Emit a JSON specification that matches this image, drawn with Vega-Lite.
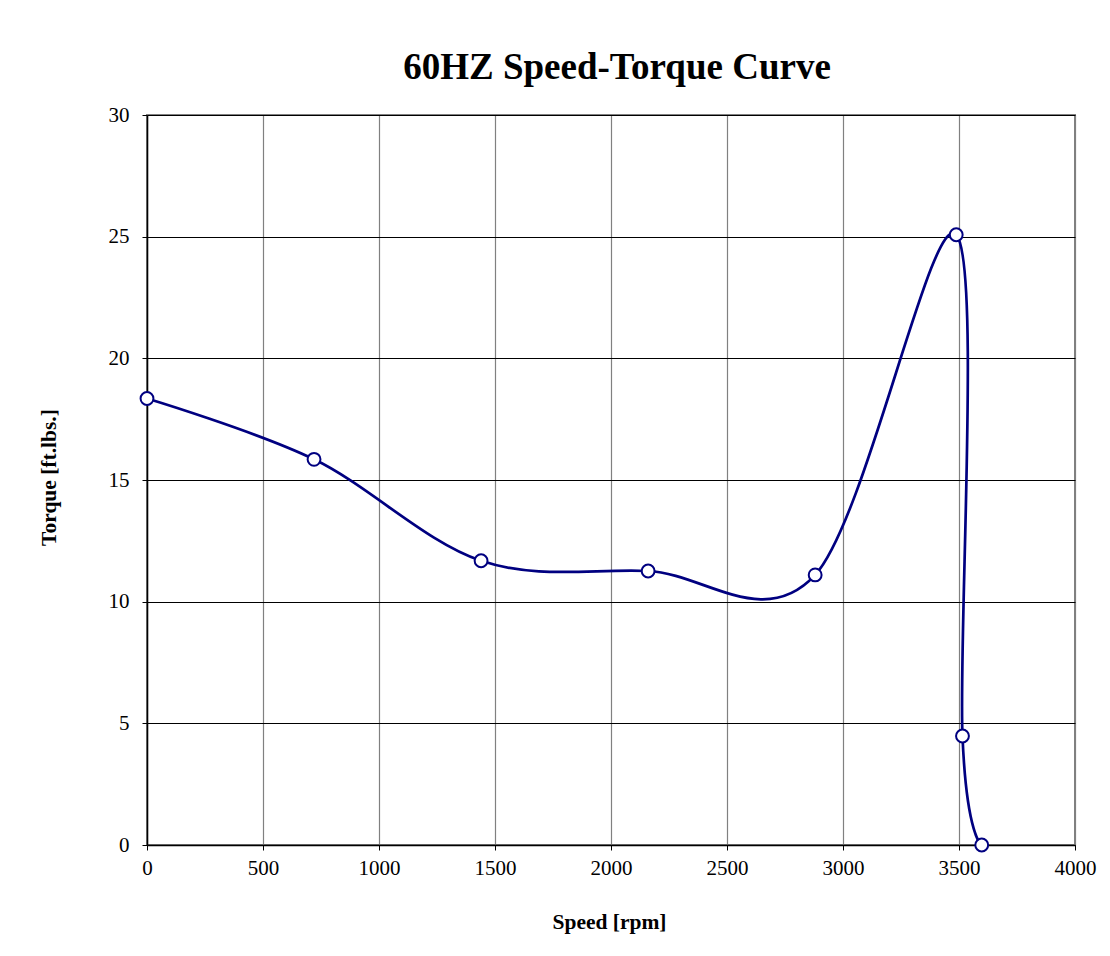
{
  "$schema": "https://vega.github.io/schema/vega-lite/v6.json",
  "width": 928,
  "height": 730,
  "autosize": {"type": "none"},
  "padding": {"left": 147, "top": 115, "right": 35, "bottom": 111},
  "background": "white",
  "title": {
    "text": "60HZ Speed-Torque Curve",
    "font": "Liberation Serif",
    "fontSize": 37,
    "fontWeight": "bold",
    "color": "black",
    "anchor": "middle",
    "baseline": "alphabetic",
    "offset": 35,
    "dy": 47,
    "dx": 6
  },
  "config": {
    "font": "Liberation Serif",
    "view": {"stroke": "#808080", "strokeWidth": 2},
    "axis": {
      "labelFont": "Liberation Serif",
      "labelFontSize": 21,
      "labelColor": "black",
      "labelFlush": false,
      "titleFont": "Liberation Serif",
      "titleFontSize": 21.5,
      "titleFontWeight": "bold",
      "titleColor": "black",
      "tickSize": 5,
      "tickColor": "black",
      "domainColor": "black",
      "domainWidth": 1.5
    }
  },
  "data": {
    "values": [
      {"i": 0, "speed": 0, "torque": 18.35},
      {"i": 1, "speed": 720, "torque": 15.85},
      {"i": 2, "speed": 1440, "torque": 11.68},
      {"i": 3, "speed": 2160, "torque": 11.26},
      {"i": 4, "speed": 2880, "torque": 11.1},
      {"i": 5, "speed": 3488, "torque": 25.08},
      {"i": 6, "speed": 3515, "torque": 4.48},
      {"i": 7, "speed": 3598, "torque": 0}
    ]
  },
  "encoding": {
    "x": {
      "field": "speed",
      "type": "quantitative",
      "scale": {"domain": [0, 4000], "nice": false, "zero": false},
      "axis": {
        "title": "Speed [rpm]",
        "format": "d",
        "values": [0, 500, 1000, 1500, 2000, 2500, 3000, 3500, 4000],
        "grid": true,
        "gridColor": "#808080",
        "gridWidth": 1.2,
        "gridOpacity": 1,
        "labelPadding": 7,
        "titleX": 462,
        "titleY": 77,
        "titleBaseline": "middle",
        "titleAlign": "center"
      }
    },
    "y": {
      "field": "torque",
      "type": "quantitative",
      "scale": {"domain": [0, 30], "nice": false},
      "axis": {
        "title": "Torque [ft.lbs.]",
        "format": "d",
        "values": [0, 5, 10, 15, 20, 25, 30],
        "grid": true,
        "gridColor": "black",
        "gridWidth": 1,
        "gridOpacity": 1,
        "labelPadding": 13,
        "titleX": -98,
        "titleY": 362,
        "titleAngle": -90,
        "titleBaseline": "middle",
        "titleAlign": "center"
      }
    }
  },
  "layer": [
    {
      "mark": {"type": "line", "interpolate": "cardinal", "color": "#000080", "strokeWidth": 2.7},
      "encoding": {"order": {"field": "i", "type": "quantitative"}}
    },
    {
      "mark": {"type": "point", "shape": "circle", "filled": true, "fill": "white", "stroke": "#000080", "strokeWidth": 2, "size": 165, "opacity": 1}
    }
  ]
}
